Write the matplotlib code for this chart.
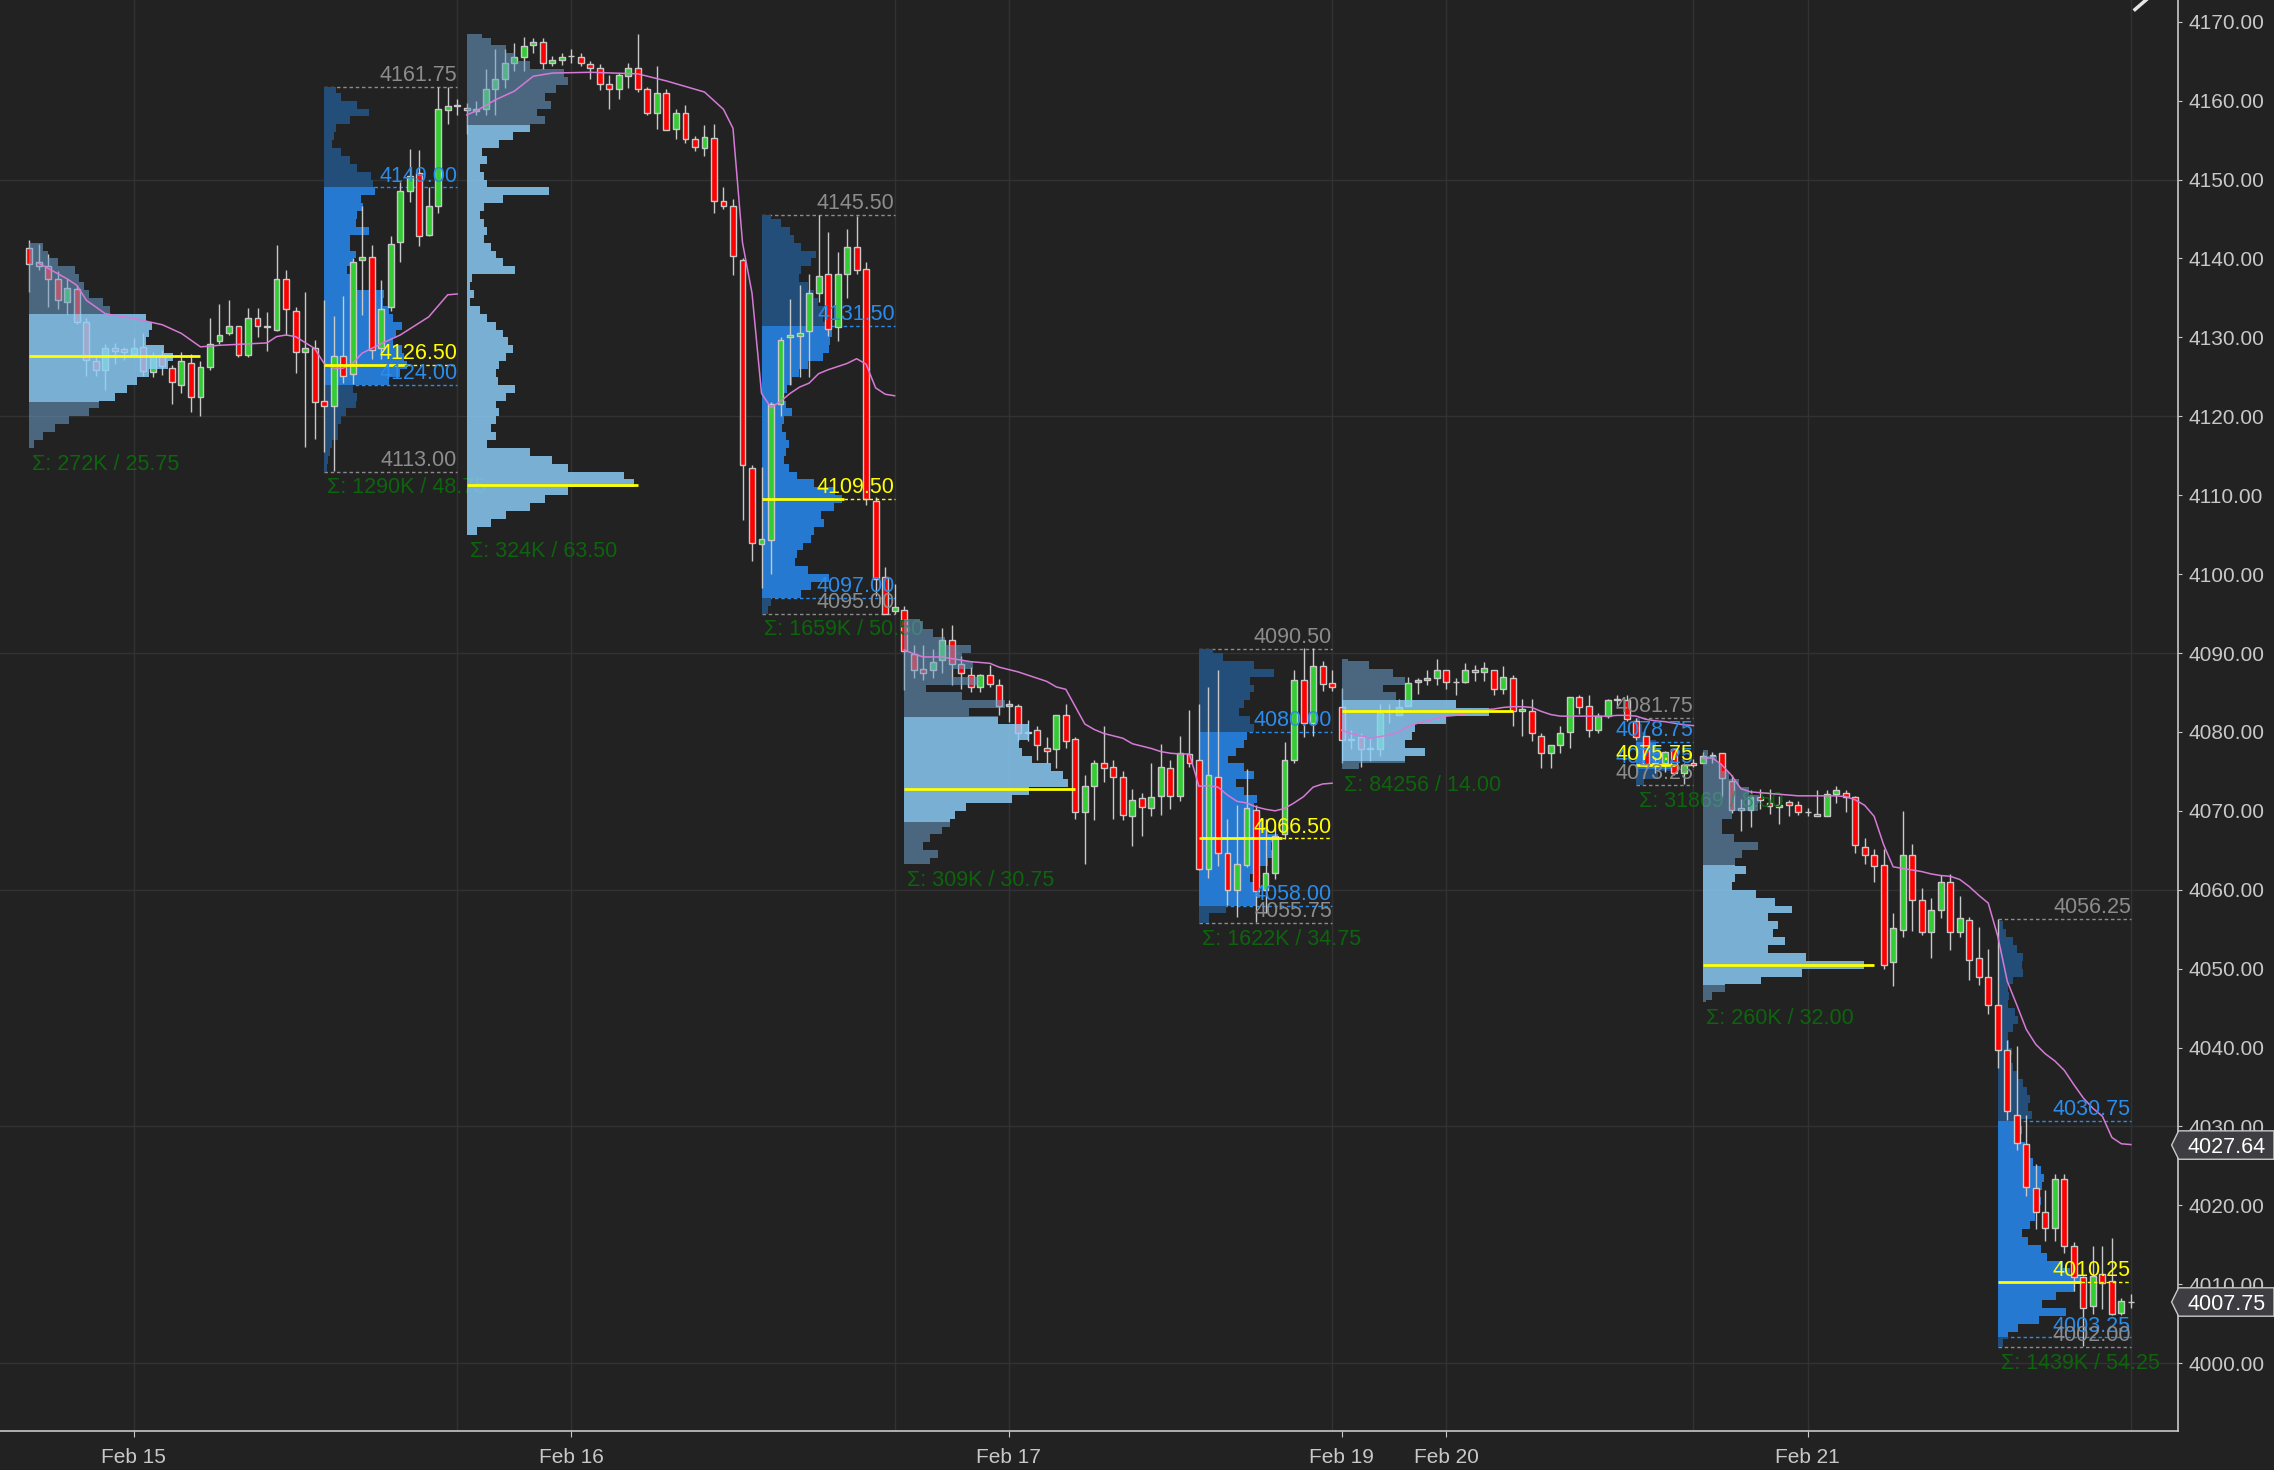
import matplotlib
matplotlib.use("Agg")
import matplotlib.pyplot as plt
from matplotlib.lines import Line2D
from matplotlib.patches import Polygon
from matplotlib.transforms import blended_transform_factory

# 30 minute bars, Feb 14 18:00 ET -> Feb 21 16:30 ET, x = bar number
opens = [
    4141.3, 4139.5, 4139.0, 4137.4, 4134.5, 4136.1, 4132.0, 4127.0, 4125.9, 4128.6,
    4128.5, 4127.9, 4128.8, 4125.6, 4127.8, 4126.1, 4124.0, 4126.8, 4122.5, 4126.3,
    4129.5, 4130.5, 4131.5, 4127.8, 4132.5, 4131.5, 4131.0, 4137.4, 4133.3, 4128.1,
    4128.6, 4122.0, 4121.3, 4127.6, 4125.4, 4139.8, 4140.2, 4128.6, 4133.8, 4142.1,
    4148.5, 4150.8, 4143.0, 4146.7, 4158.8, 4159.3, 4159.1, 4158.7, 4159.0, 4161.5,
    4162.8, 4164.8, 4165.5, 4167.0, 4167.5, 4164.8, 4165.2, 4165.6, 4165.5, 4164.7,
    4164.2, 4162.1, 4161.5, 4163.1, 4164.2, 4161.5, 4158.5, 4161.0, 4156.4, 4158.5,
    4155.2, 4154.0, 4155.3, 4147.3, 4146.6, 4139.8, 4113.5, 4103.8, 4104.3, 4121.6,
    4130.0, 4130.2, 4130.8, 4135.6, 4138.0, 4131.3, 4138.0, 4141.5, 4138.7, 4109.3,
    4099.6, 4095.3, 4095.5, 4089.9, 4088.0, 4087.8, 4089.1, 4091.6, 4088.6, 4087.2,
    4085.7, 4087.2, 4086.0, 4083.3, 4083.3, 4079.8, 4080.3, 4077.9, 4077.8, 4082.1,
    4079.1, 4069.8, 4073.1, 4076.1, 4075.6, 4074.3, 4069.3, 4071.6, 4070.3, 4071.9,
    4075.4, 4071.9, 4077.2, 4076.4, 4062.6, 4074.3, 4064.6, 4060.0, 4063.1, 4070.1,
    4060.0, 4062.1, 4067.1, 4076.4, 4086.6, 4081.1, 4088.3, 4086.2, 4083.1, 4079.0,
    4079.3, 4077.8, 4077.8, 4082.5, 4082.1, 4083.3, 4086.3, 4086.6, 4086.8, 4087.8,
    4086.3, 4086.3, 4087.8, 4087.6, 4087.8, 4085.5, 4086.8, 4082.6, 4082.6, 4079.5,
    4077.3, 4078.3, 4080.0, 4084.4, 4083.3, 4080.3, 4082.0, 4084.1, 4084.1, 4081.4,
    4079.5, 4075.7, 4076.1, 4077.8, 4074.8, 4076.1, 4076.1, 4077.0, 4077.3, 4073.8,
    4070.3, 4070.1, 4071.8, 4071.0, 4070.5, 4071.1, 4070.8, 4069.8, 4069.6, 4069.3,
    4072.1, 4072.3, 4071.8, 4065.4, 4064.4, 4063.1, 4050.8, 4054.9, 4064.4, 4058.7,
    4054.6, 4057.4, 4061.0, 4054.6, 4056.2, 4051.3, 4048.9, 4045.4, 4039.7, 4031.5,
    4027.8, 4022.2, 4019.1, 4017.1, 4023.4, 4014.9, 4010.9, 4007.3, 4011.3, 4010.4,
    4006.3, 4007.75,
]
highs = [
    4142.3, 4141.8, 4140.6, 4138.4, 4137.4, 4136.6, 4132.4, 4127.6, 4129.2, 4129.3,
    4128.8, 4129.9, 4130.6, 4128.2, 4128.4, 4126.5, 4128.2, 4127.9, 4127.0, 4132.4,
    4134.2, 4134.7, 4131.5, 4133.7, 4133.7, 4133.2, 4141.7, 4138.6, 4133.9, 4135.7,
    4129.7, 4134.8, 4132.7, 4135.2, 4140.0, 4146.6, 4141.7, 4137.3, 4142.8, 4149.7,
    4153.9, 4153.7, 4149.1, 4161.7, 4161.75, 4160.2, 4159.7, 4159.9, 4164.0, 4166.5,
    4166.5, 4167.3, 4168.1, 4167.9, 4167.9, 4165.7, 4166.0, 4166.6, 4166.0, 4165.0,
    4164.6, 4163.3, 4163.5, 4164.8, 4168.5, 4161.7, 4164.4, 4161.5, 4158.9, 4159.5,
    4155.5, 4156.9, 4157.0, 4149.0, 4147.6, 4140.0, 4113.8, 4113.6, 4121.8, 4130.1,
    4134.9, 4136.6, 4138.0, 4145.5, 4143.3, 4140.8, 4143.8, 4145.4, 4139.5, 4109.8,
    4100.9, 4098.8, 4095.95, 4091.0, 4091.0, 4090.5, 4093.2, 4093.5, 4089.6, 4088.2,
    4087.4, 4088.5, 4086.7, 4084.0, 4083.5, 4081.5, 4080.7, 4079.4, 4082.1, 4083.5,
    4079.4, 4074.5, 4076.4, 4080.7, 4076.4, 4075.0, 4072.8, 4072.3, 4076.0, 4078.5,
    4076.4, 4079.5, 4082.8, 4083.5, 4085.7, 4087.8, 4069.0, 4070.7, 4075.3, 4070.7,
    4068.9, 4068.0, 4078.7, 4087.9, 4090.6, 4090.6, 4089.0, 4087.9, 4085.6, 4080.2,
    4079.8, 4079.2, 4083.5, 4083.5, 4084.2, 4086.9, 4086.8, 4087.9, 4089.2, 4087.9,
    4086.8, 4088.7, 4088.5, 4088.9, 4087.8, 4088.3, 4087.2, 4084.2, 4084.2, 4079.8,
    4078.3, 4080.7, 4084.4, 4084.7, 4084.7, 4082.4, 4084.2, 4084.7, 4084.7, 4081.75,
    4079.5, 4076.8, 4077.6, 4077.9, 4076.1, 4076.6, 4077.5, 4077.5, 4077.3, 4074.5,
    4071.5, 4072.6, 4072.8, 4072.8, 4071.9, 4071.4, 4071.2, 4070.4, 4072.6, 4072.6,
    4073.1, 4072.7, 4071.9, 4066.5, 4065.2, 4065.2, 4057.1, 4070.0, 4065.8, 4060.2,
    4058.9, 4061.9, 4062.0, 4059.2, 4056.6, 4055.3, 4052.5, 4056.25, 4041.0, 4040.2,
    4031.5, 4025.2, 4022.0, 4024.0, 4024.0, 4015.3, 4011.1, 4014.9, 4014.9, 4015.9,
    4008.3, 4008.8,
]
lows = [
    4135.8, 4138.5, 4133.8, 4133.6, 4133.0, 4131.7, 4125.1, 4125.1, 4123.3, 4126.6,
    4127.1, 4127.8, 4125.1, 4125.0, 4125.2, 4121.5, 4123.0, 4120.5, 4120.1, 4125.9,
    4129.2, 4130.3, 4127.5, 4127.5, 4130.1, 4128.3, 4130.8, 4130.3, 4125.5, 4116.1,
    4117.1, 4115.5, 4113.1, 4124.2, 4124.1, 4132.8, 4127.3, 4127.2, 4133.3, 4139.5,
    4147.1, 4141.6, 4142.8, 4145.8, 4157.0, 4158.2, 4155.8, 4158.2, 4158.2, 4158.2,
    4161.6, 4163.8, 4163.8, 4166.0, 4164.0, 4164.4, 4164.5, 4164.8, 4164.4, 4162.8,
    4161.3, 4159.0, 4160.2, 4161.6, 4161.1, 4158.2, 4156.4, 4156.3, 4155.1, 4154.6,
    4153.6, 4153.0, 4145.8, 4146.3, 4137.9, 4106.8, 4101.7, 4098.3, 4100.0, 4120.1,
    4124.0, 4125.0, 4125.0, 4134.5, 4130.2, 4129.5, 4135.0, 4138.0, 4108.7, 4097.2,
    4095.0, 4095.0, 4085.3, 4086.8, 4086.6, 4086.8, 4087.5, 4086.0, 4085.5, 4085.1,
    4085.1, 4085.7, 4082.1, 4081.3, 4078.8, 4078.8, 4076.4, 4076.1, 4075.4, 4078.0,
    4069.0, 4063.3, 4068.8, 4073.7, 4069.0, 4068.8, 4065.6, 4066.8, 4069.3, 4069.5,
    4070.2, 4071.3, 4075.6, 4062.5, 4061.5, 4063.0, 4058.1, 4056.6, 4062.9, 4055.95,
    4057.0, 4061.4, 4066.4, 4076.1, 4079.4, 4079.5, 4085.2, 4085.2, 4076.0, 4077.8,
    4075.6, 4076.3, 4076.9, 4081.1, 4082.1, 4083.3, 4084.8, 4085.9, 4085.9, 4085.4,
    4084.7, 4086.2, 4086.5, 4086.5, 4084.7, 4084.8, 4080.8, 4079.5, 4078.8, 4075.4,
    4075.4, 4077.3, 4078.0, 4082.3, 4079.3, 4079.8, 4081.8, 4083.0, 4081.4, 4079.0,
    4075.6, 4074.8, 4074.9, 4074.5, 4073.35, 4075.6, 4076.0, 4076.0, 4071.8, 4069.7,
    4067.4, 4068.0, 4070.2, 4069.6, 4068.3, 4069.3, 4069.5, 4069.3, 4069.3, 4069.3,
    4071.0, 4069.8, 4064.6, 4063.3, 4061.0, 4050.0, 4047.8, 4054.0, 4054.8, 4054.3,
    4051.3, 4056.4, 4052.3, 4054.0, 4048.6, 4047.9, 4044.3, 4037.4, 4030.8, 4027.0,
    4021.2, 4017.0, 4015.5, 4015.5, 4013.9, 4009.1, 4002.2, 4006.2, 4006.8, 4006.1,
    4006.1, 4007.0,
]
closes = [
    4139.3, 4139.0, 4137.4, 4134.8, 4136.3, 4132.0, 4127.1, 4125.9, 4128.6, 4128.3,
    4128.1, 4128.6, 4125.7, 4127.6, 4126.4, 4124.3, 4127.0, 4122.5, 4126.3, 4129.2,
    4130.3, 4131.5, 4127.8, 4132.5, 4131.5, 4131.3, 4137.4, 4133.6, 4128.1, 4128.6,
    4121.8, 4121.3, 4127.6, 4125.1, 4139.6, 4140.2, 4128.4, 4133.6, 4141.8, 4148.5,
    4150.5, 4142.8, 4146.7, 4159.0, 4159.3, 4159.5, 4158.8, 4159.0, 4161.5, 4162.8,
    4164.8, 4165.5, 4166.9, 4167.5, 4164.8, 4165.1, 4165.5, 4165.6, 4164.8, 4164.2,
    4162.1, 4161.5, 4163.2, 4164.2, 4161.5, 4158.5, 4161.0, 4156.3, 4158.5, 4155.1,
    4154.1, 4155.4, 4147.3, 4146.7, 4140.3, 4113.8, 4103.9, 4104.5, 4121.5, 4129.7,
    4130.3, 4130.6, 4135.6, 4137.8, 4131.1, 4138.0, 4141.5, 4138.6, 4109.5, 4099.4,
    4095.0, 4095.8, 4090.2, 4087.8, 4087.5, 4088.8, 4091.6, 4088.6, 4087.5, 4085.7,
    4087.2, 4086.1, 4083.3, 4083.6, 4079.8, 4080.0, 4078.3, 4077.6, 4082.1, 4078.8,
    4069.8, 4073.1, 4076.1, 4075.4, 4074.3, 4069.5, 4071.4, 4070.5, 4071.8, 4075.6,
    4071.9, 4077.3, 4076.1, 4062.6, 4074.6, 4064.6, 4060.0, 4063.3, 4070.3, 4059.8,
    4062.1, 4066.8, 4076.4, 4086.6, 4081.1, 4088.3, 4086.1, 4085.7, 4079.0, 4079.0,
    4077.8, 4077.9, 4082.4, 4082.5, 4083.1, 4086.2, 4086.6, 4086.8, 4087.8, 4086.3,
    4086.3, 4087.8, 4087.6, 4088.1, 4085.5, 4087.0, 4082.6, 4082.9, 4079.8, 4077.3,
    4078.3, 4079.8, 4084.4, 4083.1, 4080.3, 4082.0, 4084.1, 4084.1, 4081.6, 4079.3,
    4075.9, 4076.1, 4077.5, 4074.8, 4075.8, 4075.8, 4077.0, 4077.0, 4074.1, 4070.1,
    4070.1, 4071.8, 4071.4, 4070.6, 4070.8, 4070.8, 4069.8, 4069.8, 4069.3, 4072.1,
    4072.6, 4071.8, 4065.7, 4064.4, 4063.0, 4050.5, 4055.1, 4064.4, 4058.7, 4054.6,
    4057.4, 4061.0, 4054.6, 4056.4, 4051.1, 4048.9, 4045.4, 4039.7, 4031.9, 4027.9,
    4022.3, 4019.1, 4017.1, 4023.4, 4014.9, 4010.9, 4007.0, 4011.1, 4010.1, 4006.2,
    4007.85, 4007.75,
]

# session VWAP, read at bar numbers (one list per trading day)
vwap1_idx = [1, 4, 5, 6, 8, 11, 14, 16, 18, 20, 25, 26, 27, 28, 30, 31, 32, 33, 34, 35, 37, 39, 42, 44, 45]
vwap1_val = [4139.4, 4137.4, 4136.6, 4134.7, 4133.0, 4132.4, 4131.6, 4130.5, 4128.8, 4129.0, 4129.3,
             4130.1, 4130.3, 4130.1, 4128.6, 4126.7, 4126.1, 4126.1, 4126.7, 4128.0, 4129.2, 4130.3,
             4132.6, 4135.4, 4135.5]
vwap2_idx = [46, 47, 49, 51, 53, 55, 59, 64, 67, 71, 73, 74, 75, 76, 77, 78, 79, 80, 81, 82, 83,
             84, 85, 86, 87, 88, 89, 90, 91]
vwap2_val = [4158.2, 4158.7, 4160.1, 4161.2, 4163.1, 4163.5, 4163.6, 4163.4, 4162.5, 4161.1, 4158.9,
             4156.5, 4142.0, 4135.6, 4122.9, 4121.1, 4121.9, 4122.9, 4123.7, 4124.2, 4125.4, 4125.9,
             4126.3, 4126.7, 4127.3, 4126.6, 4123.6, 4122.8, 4122.6]
vwap3_val = [4090.4, 4089.9, 4089.5, 4089.5, 4089.5, 4089.3, 4089.1, 4088.9, 4088.8, 4088.7,
             4088.2, 4087.9, 4087.6, 4087.2, 4086.8, 4086.4, 4085.7, 4085.4, 4083.2, 4081.0,
             4080.3, 4079.8, 4079.5, 4079.2, 4078.5, 4078.2, 4077.9, 4077.5, 4077.3, 4077.2,
             4077.2, 4073.1, 4073.2, 4073.0, 4072.0, 4071.2, 4071.0, 4070.5, 4070.2, 4070.0,
             4070.3, 4071.0, 4071.8, 4073.0, 4073.4, 4073.5]  # bars 92-137
vwap4_val = [4080.2, 4079.8, 4079.5, 4079.2, 4079.4, 4079.6, 4080.0, 4080.7, 4081.1, 4081.4,
             4081.7, 4082.0, 4082.1, 4082.3, 4082.6, 4082.8, 4082.9, 4083.1, 4083.2, 4083.2,
             4083.1, 4082.6, 4082.2, 4082.0, 4082.0, 4082.0, 4082.0, 4082.0, 4082.0, 4082.1,
             4082.1, 4082.0, 4081.6, 4081.4, 4081.3, 4081.1, 4080.9, 4080.8]  # bars 138-175
vwap5_val = [4076.7, 4076.7, 4075.8, 4074.5, 4072.8, 4072.4, 4072.3, 4072.2, 4072.1, 4072.0,
             4071.9, 4071.9, 4071.9, 4071.9, 4071.9, 4071.8, 4071.4, 4070.7, 4069.3, 4065.7,
             4062.9, 4062.7, 4062.5, 4062.3, 4062.0, 4061.8, 4061.7, 4061.3, 4060.4, 4059.3,
             4058.3, 4054.1, 4048.4, 4045.4, 4042.3, 4040.4, 4039.2, 4038.3, 4037.1, 4035.3,
             4033.6, 4032.3, 4031.3, 4028.6, 4027.8, 4027.7]  # bars 176-221

# volume profiles: relative volume per 1-point price row, lowest row first
on1_vol = [3, 8, 15, 23, 35, 41, 50, 57, 63, 70, 81, 84, 79, 68, 70, 72, 68, 47, 43, 35, 32, 29, 27, 17, 11, 8]
rth1_vol = [3, 5, 7, 9, 17, 17, 21, 26, 38, 40, 35, 78, 92, 100, 97, 94, 83, 87, 94, 83, 78, 71, 73, 40, 35,
            28, 35, 38, 31, 31, 54, 38, 40, 47, 45, 61, 59, 57, 40, 31, 21, 9, 12, 14, 31, 54, 40, 21, 14]
on2_vol = [6, 14, 23, 37, 46, 59, 98, 92, 59, 50, 37, 12, 17, 14, 17, 19, 17, 23, 28, 18, 17, 19, 23, 27,
           24, 21, 17, 12, 8, 2, 4, 2, 3, 28, 21, 17, 14, 10, 12, 10, 8, 10, 21, 48, 12, 10, 8, 12, 9, 19,
           27, 37, 46, 41, 49, 46, 52, 59, 57, 37, 28, 23, 14, 9]
rth2_vol = [8, 12, 48, 60, 81, 56, 41, 43, 50, 60, 64, 76, 72, 87, 97, 89, 64, 43, 33, 27, 29, 33, 29, 25,
            27, 37, 29, 27, 31, 37, 45, 56, 74, 81, 83, 85, 79, 74, 76, 68, 64, 56, 45, 48, 60, 66, 48,
            39, 35, 23, 12]
on3_vol = [15, 20, 11, 15, 22, 27, 30, 36, 63, 73, 96, 93, 86, 75, 69, 67, 73, 73, 55, 38, 59, 34, 13, 44,
           28, 40, 34, 39, 24, 17, 11, 9]
rth3_vol = [12, 12, 33, 70, 74, 70, 62, 66, 83, 93, 87, 95, 83, 79, 74, 66, 70, 54, 45, 66, 54, 35, 45, 54,
            58, 66, 62, 48, 54, 62, 66, 62, 91, 66, 29, 17]
on4_vol = [10, 37, 49, 37, 41, 43, 61, 86, 67, 32, 24, 37, 30, 16, 4]
rth4_vol = [20, 55, 100, 80, 60, 50, 25, 15, 10]
on5_vol = [2, 5, 13, 34, 58, 94, 60, 38, 48, 41, 44, 38, 52, 42, 31, 17, 19, 25, 19, 23, 32, 18, 11, 11,
           17, 32, 33, 27, 21, 15, 11, 8, 3]
rth5_vol = [6, 12, 25, 50, 83, 54, 70, 93, 100, 87, 79, 60, 52, 37, 29, 39, 45, 48, 52, 50, 54, 56, 52, 43,
            37, 33, 27, 29, 25, 41, 37, 39, 35, 31, 23, 19, 14, 17, 14, 12, 19, 25, 21, 12, 14, 12, 19,
            31, 29, 31, 23, 19, 10, 6, 2]

# (volumes, first row, first bar, last bar, low, high, VAL, VAH, POC, regular hours, sigma text)
profiles = [
    (on1_vol, 4116, 0, 30, 4116.0, 4142.0, 4121.8, 4133.0, 4127.6, False, "Σ: 272K / 25.75"),
    (rth1_vol, 4113, 31, 45, 4113.0, 4161.75, 4124.0, 4149.0, 4126.5, True, "Σ: 1290K / 48.75"),
    (on2_vol, 4105, 46, 76, 4105.0, 4168.5, 4105.0, 4156.9, 4111.3, False, "Σ: 324K / 63.50"),
    (rth2_vol, 4095, 77, 91, 4095.0, 4145.5, 4097.0, 4131.5, 4109.5, True, "Σ: 1659K / 50.50"),
    (on3_vol, 4063, 92, 122, 4063.25, 4094.25, 4068.6, 4081.9, 4072.8, False, "Σ: 309K / 30.75"),
    (rth3_vol, 4055, 123, 137, 4055.75, 4090.5, 4058.0, 4080.0, 4066.5, True, "Σ: 1622K / 34.75"),
    (on4_vol, 4075, 138, 168, 4075.25, 4089.25, 4076.3, 4084.1, 4082.6, False, "Σ: 84256 / 14.00"),
    (rth4_vol, 4073, 169, 175, 4073.25, 4081.75, 4075.25, 4078.75, 4075.75, True, "Σ: 31869 / 8.50"),
    (on5_vol, 4045, 176, 206, 4045.75, 4077.75, 4047.9, 4063.1, 4050.5, False, "Σ: 260K / 32.00"),
    (rth5_vol, 4002, 207, 221, 4002.0, 4056.25, 4003.25, 4030.75, 4010.25, True, "Σ: 1439K / 54.25"),
]

date_pos = [11, 57, 103, 138, 149, 187]
date_labels = ["Feb 15", "Feb 16", "Feb 17", "Feb 19", "Feb 20", "Feb 21"]
session_ends = [45, 91, 137, 175, 221]
last_price = 4007.75
last_vwap = 4027.64

BG = "#222222"
FG = "#c8c8c8"
GRID = "#323232"
plt.rcParams["font.family"] = ["Liberation Sans", "DejaVu Sans"]
FS = 15.5

fig = plt.figure(figsize=(22.74, 14.70), dpi=100, facecolor=BG)
ax = fig.add_axes([0, 1 - 1431 / 1470, 2177.5 / 2274, 1431 / 1470])
ax.set_facecolor(BG)
ax.set_xlim(-3.08, 225.9)
ax.set_ylim(3991.4, 4172.76)

for y in range(4000, 4171, 30):
    ax.axhline(y, color=GRID, lw=1.0, zorder=0.5)
for x in date_pos[:3] + date_pos[4:] + session_ends:
    ax.axvline(x, color=GRID, lw=1.0, zorder=0.5)

# candles
for i in range(len(opens)):
    o, h, l, c = opens[i], highs[i], lows[i], closes[i]
    ax.vlines(i, l, h, color=FG, lw=1.0, zorder=3)
    if c > o:
        col = "#32cd32"
    elif c < o:
        col = "#ff0000"
    else:
        col = FG
    ax.bar(i, max(abs(c - o), 0.06), bottom=min(o, c), width=0.62, color=col,
           edgecolor=FG, linewidth=1.0, zorder=3.2)

# volume profiles
dash = (0, (2.5, 2.0))
for vols, base, s, e, lo, hi, val, vah, poc, rth, sigma in profiles:
    maxw = 0.58 * (e - s + 1)
    if rth:
        cols = {"va": ("#2679d0", 1.0), "out": ("#244e7a", 1.0)}
        z = 2
    else:
        cols = {"va": ("#8dcffb", 0.82), "out": ("#6ea1cd", 0.55)}
        z = 4
    regions = {"below": [], "va": [], "above": []}
    for k, v in enumerate(vols):
        b0, b1 = max(base + k, lo), min(base + k + 1, hi)
        if b1 <= b0:
            continue
        w = v / 100 * maxw
        for r0, r1, key in ((b0, min(b1, val), "below"), (max(b0, val), min(b1, vah), "va"),
                            (max(b0, vah), b1, "above")):
            if r1 > r0:
                regions[key].append((r0, r1, w))
    for key, segs in regions.items():
        if not segs:
            continue
        xs, ys = [s], [segs[0][0]]
        for r0, r1, w in segs:
            xs += [s + w, s + w]
            ys += [r0, r1]
        xs.append(s)
        ys.append(segs[-1][1])
        c, a = cols["va" if key == "va" else "out"]
        ax.fill(xs, ys, color=c, alpha=a, lw=0, zorder=z)

    ax.plot([s, s + maxw], [poc, poc], color="#ffff00", lw=2.0, zorder=6, solid_capstyle="butt")
    # sigma label sits under the next overnight profile, as in the platform
    ax.text(s + 0.3, lo - 0.75, sigma, color="#0d640d", fontsize=FS, ha="left", va="top", zorder=3.5)
    if rth:
        ax.plot([s + maxw, e], [poc, poc], color="#ffff00", lw=1.0, ls=dash, zorder=6)
        for lvl, col in ((hi, "#8c8c8c"), (lo, "#8c8c8c"), (vah, "#2a8cec"), (val, "#2a8cec")):
            ax.plot([s, e], [lvl, lvl], color=col, lw=1.0, ls=dash, zorder=1.5)
        for lvl, col in ((hi, "#8c8c8c"), (vah, "#2a8cec"), (val, "#2a8cec"), (lo, "#8c8c8c"),
                         (poc, "#ffff00")):
            ax.text(e, lvl + 0.75, f"{lvl:.2f}", color=col, fontsize=FS, ha="right",
                    va="baseline", zorder=7)

# vwap
ax.plot(vwap1_idx, vwap1_val, color="#d67ad6", lw=1.1, zorder=5)
ax.plot(vwap2_idx, vwap2_val, color="#d67ad6", lw=1.1, zorder=5)
ax.plot(range(92, 138), vwap3_val, color="#d67ad6", lw=1.1, zorder=5)
ax.plot(range(138, 176), vwap4_val, color="#d67ad6", lw=1.1, zorder=5)
ax.plot(range(176, 222), vwap5_val, color="#d67ad6", lw=1.1, zorder=5)

# axes styling
for side in ("top", "left"):
    ax.spines[side].set_visible(False)
for side in ("right", "bottom"):
    ax.spines[side].set_color(FG)
    ax.spines[side].set_linewidth(1.2)
ax.yaxis.tick_right()
ax.set_yticks(range(4000, 4171, 10))
ax.set_yticklabels([f"{v:.2f}" for v in range(4000, 4171, 10)])
ax.set_xticks(date_pos)
ax.set_xticklabels(date_labels)
ax.tick_params(axis="y", colors=FG, labelsize=15, length=3, pad=5)
ax.tick_params(axis="x", colors=FG, labelsize=15, length=4, pad=8)

# price tags on the axis
tr = blended_transform_factory(ax.transAxes, ax.transData)
for v in (last_vwap, last_price):
    hh = 1.8
    tag = Polygon([(0.9973, v), (1.0005, v + hh), (1.0443, v + hh), (1.0443, v - hh), (1.0005, v - hh)],
                  closed=True, transform=tr, facecolor="#3d3d42", edgecolor=FG, lw=1.0,
                  clip_on=False, zorder=10)
    ax.add_patch(tag)
    ax.text(1.0045, v, f"{v:.2f}", transform=tr, color="white", fontsize=FS, ha="left",
            va="center_baseline", zorder=11, clip_on=False)

fig.add_artist(Line2D([2135 / 2274, 2146 / 2274], [1 - 9.5 / 1470, 1.0], color="#e6e6e6", lw=2.5))

fig.savefig("out.png", dpi=100, facecolor=BG)
